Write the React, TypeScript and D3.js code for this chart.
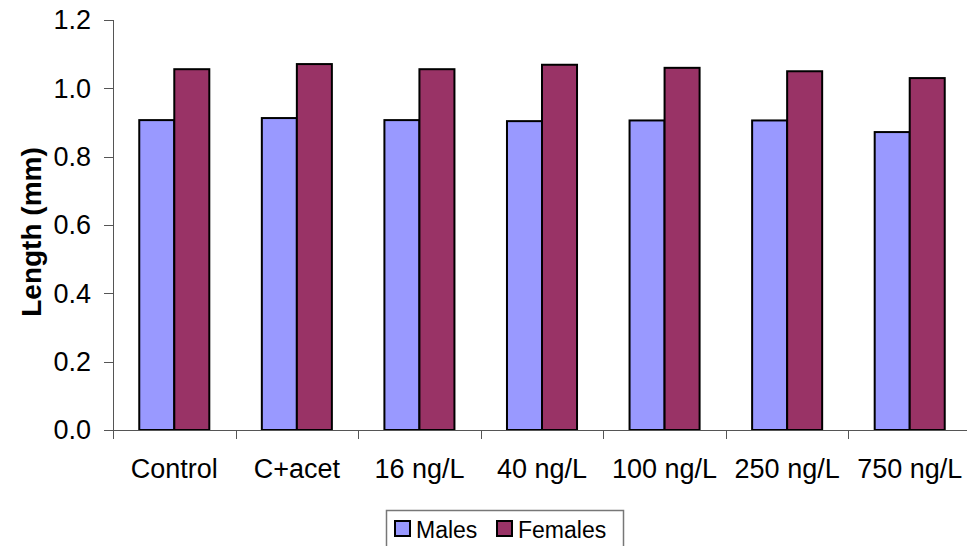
import React from "react";
import * as d3 from "d3";

// Mean body length per treatment group
const categories = ["Control", "C+acet", "16 ng/L", "40 ng/L", "100 ng/L", "250 ng/L", "750 ng/L"];
const seriesNames = ["Males", "Females"];
const males = [0.907, 0.913, 0.907, 0.904, 0.906, 0.906, 0.872];
const females = [1.056, 1.071, 1.056, 1.069, 1.060, 1.050, 1.030];
const yTicks = [0, 0.2, 0.4, 0.6, 0.8, 1.0, 1.2];
const colors = ["#9999FF", "#993366"];

const W = 967;
const H = 546;
const FONT = "Arial, 'Liberation Sans', Helvetica, sans-serif";

export default function App() {
  const x = d3.scaleBand<string>().domain(categories).range([113, 971]).padding(0);
  const inner = d3
    .scaleBand<string>()
    .domain(seriesNames)
    .range([0, x.bandwidth()])
    .paddingInner(0)
    .paddingOuter(0.75);
  const y = d3.scaleLinear().domain([0, 1.2]).range([430, 20]);
  const values = [males, females];

  const axisColor = "#555";
  const boundaries = categories.map((c) => x(c) as number).concat([x.range()[1]]);

  return (
    <svg
      width={W}
      height={H}
      style={{ position: "absolute", left: 0, top: 0, background: "#fff" }}
      fontFamily={FONT}
    >
      <rect width={W} height={H} fill="#fff" />

      {/* bars */}
      {categories.map((c, i) =>
        seriesNames.map((s, j) => {
          const v = values[j][i];
          const bx = (x(c) as number) + (inner(s) as number);
          return (
            <rect
              key={c + s}
              x={bx}
              y={y(v)}
              width={inner.bandwidth()}
              height={y(0) - y(v)}
              fill={colors[j]}
              stroke="#000"
              strokeWidth={2}
            />
          );
        })
      )}

      {/* y axis */}
      <line x1={113.5} x2={113.5} y1={y(1.2)} y2={y(0)} stroke={axisColor} strokeWidth={1} />
      {yTicks.map((t) => (
        <g key={t}>
          <line x1={104} x2={113.5} y1={Math.round(y(t)) + 0.5} y2={Math.round(y(t)) + 0.5} stroke={axisColor} />
          <text
            x={91}
            y={y(t)}
            dy="0.35em"
            textAnchor="end"
            fontSize={27}
            fill="#000"
          >
            {t.toFixed(1)}
          </text>
        </g>
      ))}
      <text
        transform={`translate(41, 232) rotate(-90)`}
        textAnchor="middle"
        fontSize={28}
        fontWeight="bold"
        fill="#000"
      >
        Length (mm)
      </text>

      {/* x axis */}
      <line x1={104} x2={x.range()[1]} y1={Math.round(y(0)) + 0.5} y2={Math.round(y(0)) + 0.5} stroke={axisColor} />
      {boundaries.map((b, i) => (
        <line key={i} x1={Math.round(b) + 0.5} x2={Math.round(b) + 0.5} y1={y(0)} y2={y(0) + 9} stroke={axisColor} />
      ))}
      {categories.map((c) => (
        <text
          key={c}
          x={(x(c) as number) + x.bandwidth() / 2}
          y={478}
          textAnchor="middle"
          fontSize={27}
          fill="#000"
        >
          {c}
        </text>
      ))}

      {/* legend */}
      <rect x={386.5} y={510.5} width={237} height={60} fill="#fff" stroke="#777" strokeWidth={1.5} />
      {seriesNames.map((s, j) => {
        const lx = j === 0 ? 395 : 497;
        return (
          <g key={s}>
            <rect x={lx} y={521} width={15} height={15} fill={colors[j]} stroke="#000" strokeWidth={2} />
            <text x={lx + 21} y={537.5} fontSize={23} fill="#000">
              {s}
            </text>
          </g>
        );
      })}
    </svg>
  );
}
